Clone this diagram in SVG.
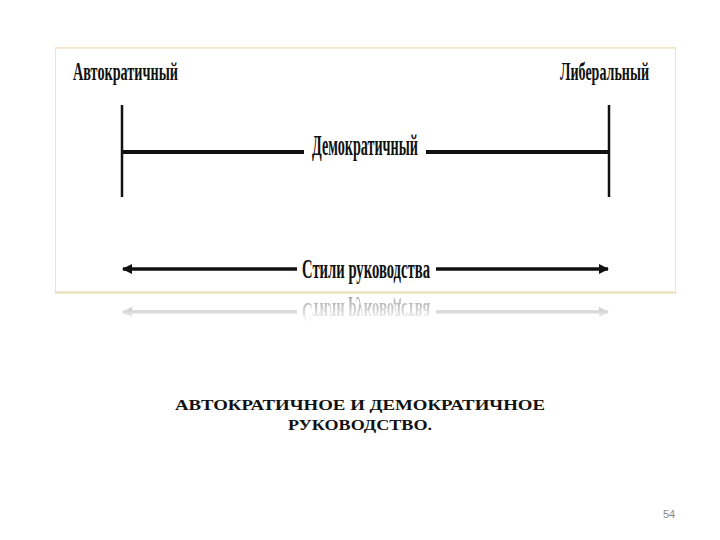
<svg xmlns="http://www.w3.org/2000/svg" xmlns:xlink="http://www.w3.org/1999/xlink" width="720" height="540" viewBox="0 0 720 540">
<style>
.lbl{font-family:"Liberation Serif","DejaVu Serif",serif;font-weight:bold;fill:#111;}
.ln{stroke:#111;fill:none;}
.cap{font-family:"Liberation Serif","DejaVu Serif",serif;font-weight:bold;font-size:15px;fill:#111;text-anchor:middle;}
</style>
<defs>
<marker id="ah" viewBox="0 0 10 10" refX="9" refY="5" markerWidth="3" markerHeight="3.2" orient="auto-start-reverse" markerUnits="strokeWidth">
<path d="M0,0 L10,5 L0,10 Z" fill="#111"/>
</marker>
<linearGradient id="fade" gradientUnits="userSpaceOnUse" x1="0" y1="293" x2="0" y2="322">
<stop offset="0" stop-color="#fff" stop-opacity="0.45"/>
<stop offset="1" stop-color="#fff" stop-opacity="0"/>
</linearGradient>
<mask id="rm" maskUnits="userSpaceOnUse" x="0" y="293" width="720" height="40">
<rect x="0" y="293" width="720" height="40" fill="url(#fade)"/>
</mask>
</defs>
<rect width="720" height="540" fill="#fff"/>
<g id="frame">
<rect x="55.5" y="47.5" width="620" height="245" fill="#fff" stroke="#ece6d6" stroke-width="1"/>
<line x1="55" y1="48" x2="676" y2="48" stroke="#f3e6c4" stroke-width="1.5"/>
<line x1="55" y1="292.5" x2="676" y2="292.5" stroke="#e6dcb4" stroke-width="2"/>
</g>
<g id="content">
<g id="connectors">
<line class="ln" x1="122" y1="105" x2="122" y2="197" stroke-width="2.5"/>
<line class="ln" x1="609" y1="105" x2="609" y2="197" stroke-width="2.5"/>
<line class="ln" x1="122" y1="152" x2="304" y2="152" stroke-width="4"/>
<line class="ln" x1="426" y1="152" x2="609" y2="152" stroke-width="4"/>
<line class="ln" x1="123" y1="269" x2="297" y2="269" stroke-width="3.5" marker-start="url(#ah)"/>
<line class="ln" x1="436" y1="269" x2="608" y2="269" stroke-width="3.5" marker-end="url(#ah)"/>
</g>
<g id="node-autocratic"><text class="lbl" x="73" y="80" font-size="25" textLength="105" lengthAdjust="spacingAndGlyphs">Автократичный</text></g>
<g id="node-liberal"><text class="lbl" x="560" y="80" font-size="25" textLength="89" lengthAdjust="spacingAndGlyphs">Либеральный</text></g>
<g id="node-democratic"><text class="lbl" x="312" y="155" font-size="29" textLength="106" lengthAdjust="spacingAndGlyphs">Демократичный</text></g>
<g id="node-styles"><text class="lbl" x="302" y="278" font-size="28" textLength="128" lengthAdjust="spacingAndGlyphs">Стили руководства</text></g>
</g>
<g id="reflection" mask="url(#rm)">
<use xlink:href="#content" transform="translate(0,581) scale(1,-1)"/>
</g>
<g id="caption">
<text class="cap" x="360" y="410" textLength="370" lengthAdjust="spacingAndGlyphs">АВТОКРАТИЧНОЕ  И  ДЕМОКРАТИЧНОЕ</text>
<text class="cap" x="360" y="430" textLength="144" lengthAdjust="spacingAndGlyphs">РУКОВОДСТВО.</text>
</g>
<text x="663" y="518" font-family="Liberation Sans, Arial, sans-serif" font-size="11" fill="#8a8a8a">54</text>
</svg>
